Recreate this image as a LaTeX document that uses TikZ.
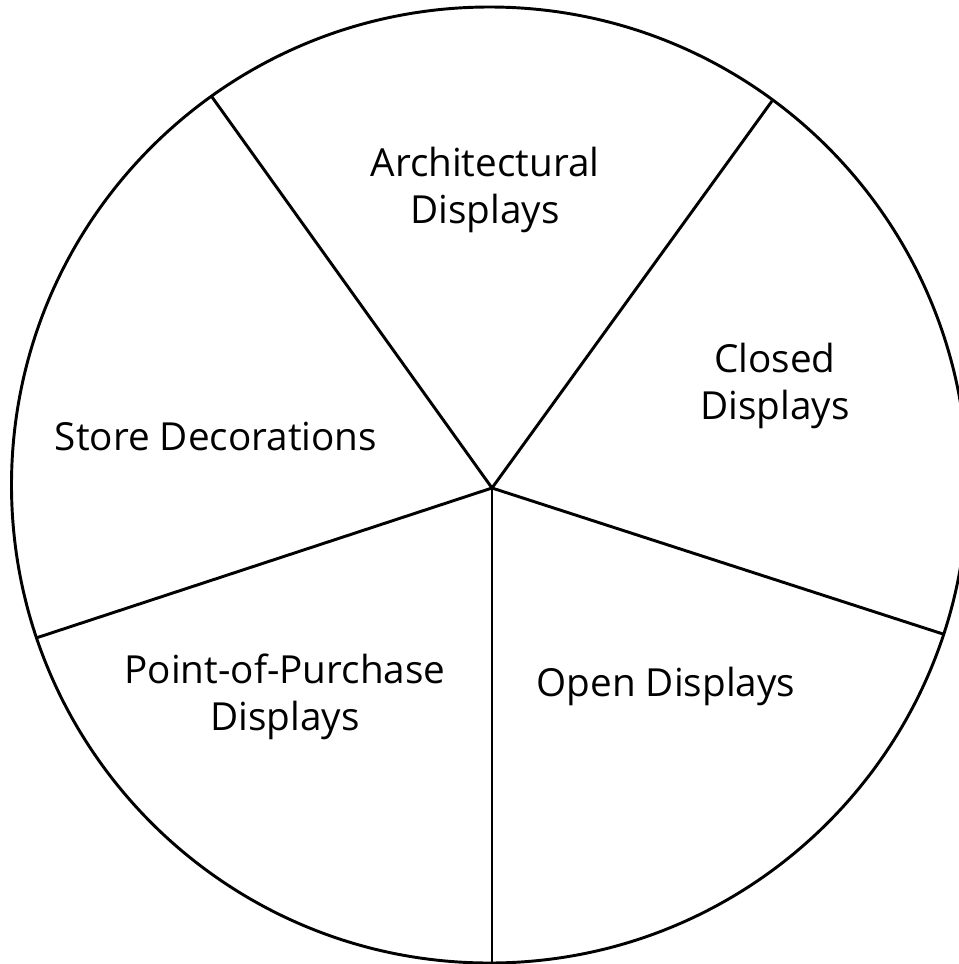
\documentclass[tikz,border=0pt]{standalone}
\usepackage{fontspec}
\setmainfont{Open Sans}
\begin{document}
\begin{tikzpicture}[x=0.75pt,y=-0.75pt,
  rim/.style={draw=black,line width=2.2pt},
  spoke/.style={draw=black,line width=2.2pt},
  lbl/.style={align=center,font=\fontsize{29}{35}\selectfont,inner sep=0pt}]
\useasboundingbox (0,0) rectangle (959,964);
\coordinate (C) at (489.5,485);
\coordinate (O) at (492,488);
\coordinate (P1) at (212,97);
\coordinate (P2) at (772,101);
\coordinate (P3) at (943,634);
\coordinate (P4) at (492,962);
\coordinate (P5) at (36,638);
\draw[rim] (C) circle [radius=358.5pt];
\foreach \p in {P1,P2,P3,P4,P5} \draw[spoke] (O) -- (\p);
\node[lbl] (arch) at (485,190) {Architectural\\Displays};
\node[lbl] (closed) at (775,386) {Closed\\Displays};
\node[lbl] (store) at (216,436) {Store Decorations};
\node[lbl] (pop) at (285,697) {Point-of-Purchase\\Displays};
\node[lbl] (open) at (666,686) {Open Displays};
\end{tikzpicture}
\end{document}
